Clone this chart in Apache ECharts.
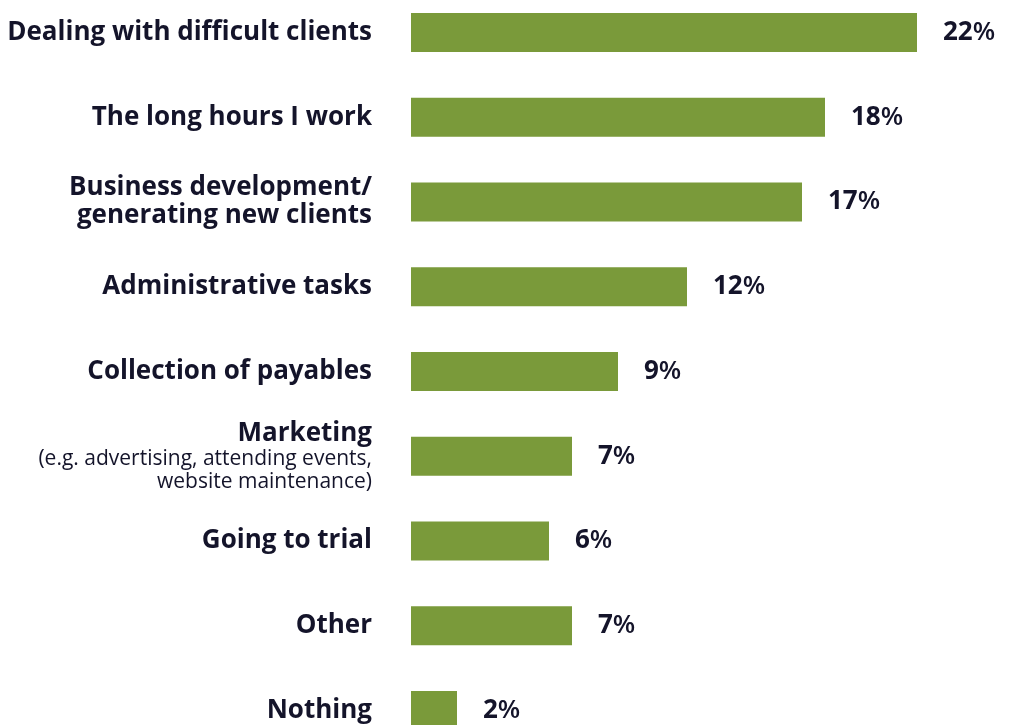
<!DOCTYPE html>
<html>
<head>
<meta charset="utf-8">
<script src="https://cdn.jsdelivr.net/npm/echarts@6/dist/echarts.min.js"></script>
<style>
  html, body { margin: 0; padding: 0; background: #ffffff; overflow: hidden; }
  /* the plot runs slightly past the top and bottom edges of the page */
  #chart { width: 1026px; height: 800px; margin-top: -10px; }
</style>
</head>
<body>
<div id="chart"></div>
<script>
// Biggest frustrations, share of respondents (%)
const categories = [
  'Dealing with difficult clients',
  'The long hours I work',
  'Business development/\ngenerating new clients',
  'Administrative tasks',
  'Collection of payables',
  'Marketing',
  'Going to trial',
  'Other',
  'Nothing'
];
const values = [22, 18, 17, 12, 9, 7, 6, 7, 2];
const marketingNote = ['(e.g. advertising, attending events,', 'website maintenance)'];

const FONT = '"Open Sans", "Noto Sans", sans-serif';
const INK = '#14142a';
const GREEN = '#7a9a3a';

const chart = echarts.init(document.getElementById('chart'), null, { renderer: 'canvas' });

chart.setOption({
  animation: false,
  backgroundColor: '#ffffff',
  grid: { left: 411, right: 40, top: 0, height: 763, containLabel: false },
  xAxis: {
    type: 'value',
    min: 0,
    max: 25,
    show: false
  },
  yAxis: {
    type: 'category',
    inverse: true,
    data: categories,
    axisLine: { show: false },
    axisTick: { show: false },
    splitLine: { show: false },
    axisLabel: {
      margin: 39,
      align: 'right',
      fontFamily: FONT,
      fontSize: 26,
      fontWeight: 'bold',
      color: INK,
      lineHeight: 28,
      formatter: function (name) {
        if (name === 'Marketing') {
          return '{b|Marketing}\n' + marketingNote.map(t => '{s|' + t + '}').join('\n');
        }
        return name;
      },
      rich: {
        b: { fontFamily: FONT, fontSize: 26, fontWeight: 'bold', color: INK, lineHeight: 29, align: 'right' },
        s: { fontFamily: FONT, fontSize: 21, fontWeight: 'normal', color: INK, lineHeight: 23, align: 'right' }
      }
    }
  },
  series: [{
    type: 'bar',
    data: values,
    barWidth: 39,
    itemStyle: { color: GREEN },
    label: {
      show: true,
      position: 'right',
      distance: 26,
      formatter: function (p) { return '{n|' + p.value + '}{p|%}'; },
      rich: {
        n: { fontFamily: FONT, fontSize: 26, fontWeight: 'bold', color: INK },
        p: { fontFamily: FONT, fontSize: 26, fontWeight: 600, color: INK }
      }
    }
  }]
});
</script>
</body>
</html>
